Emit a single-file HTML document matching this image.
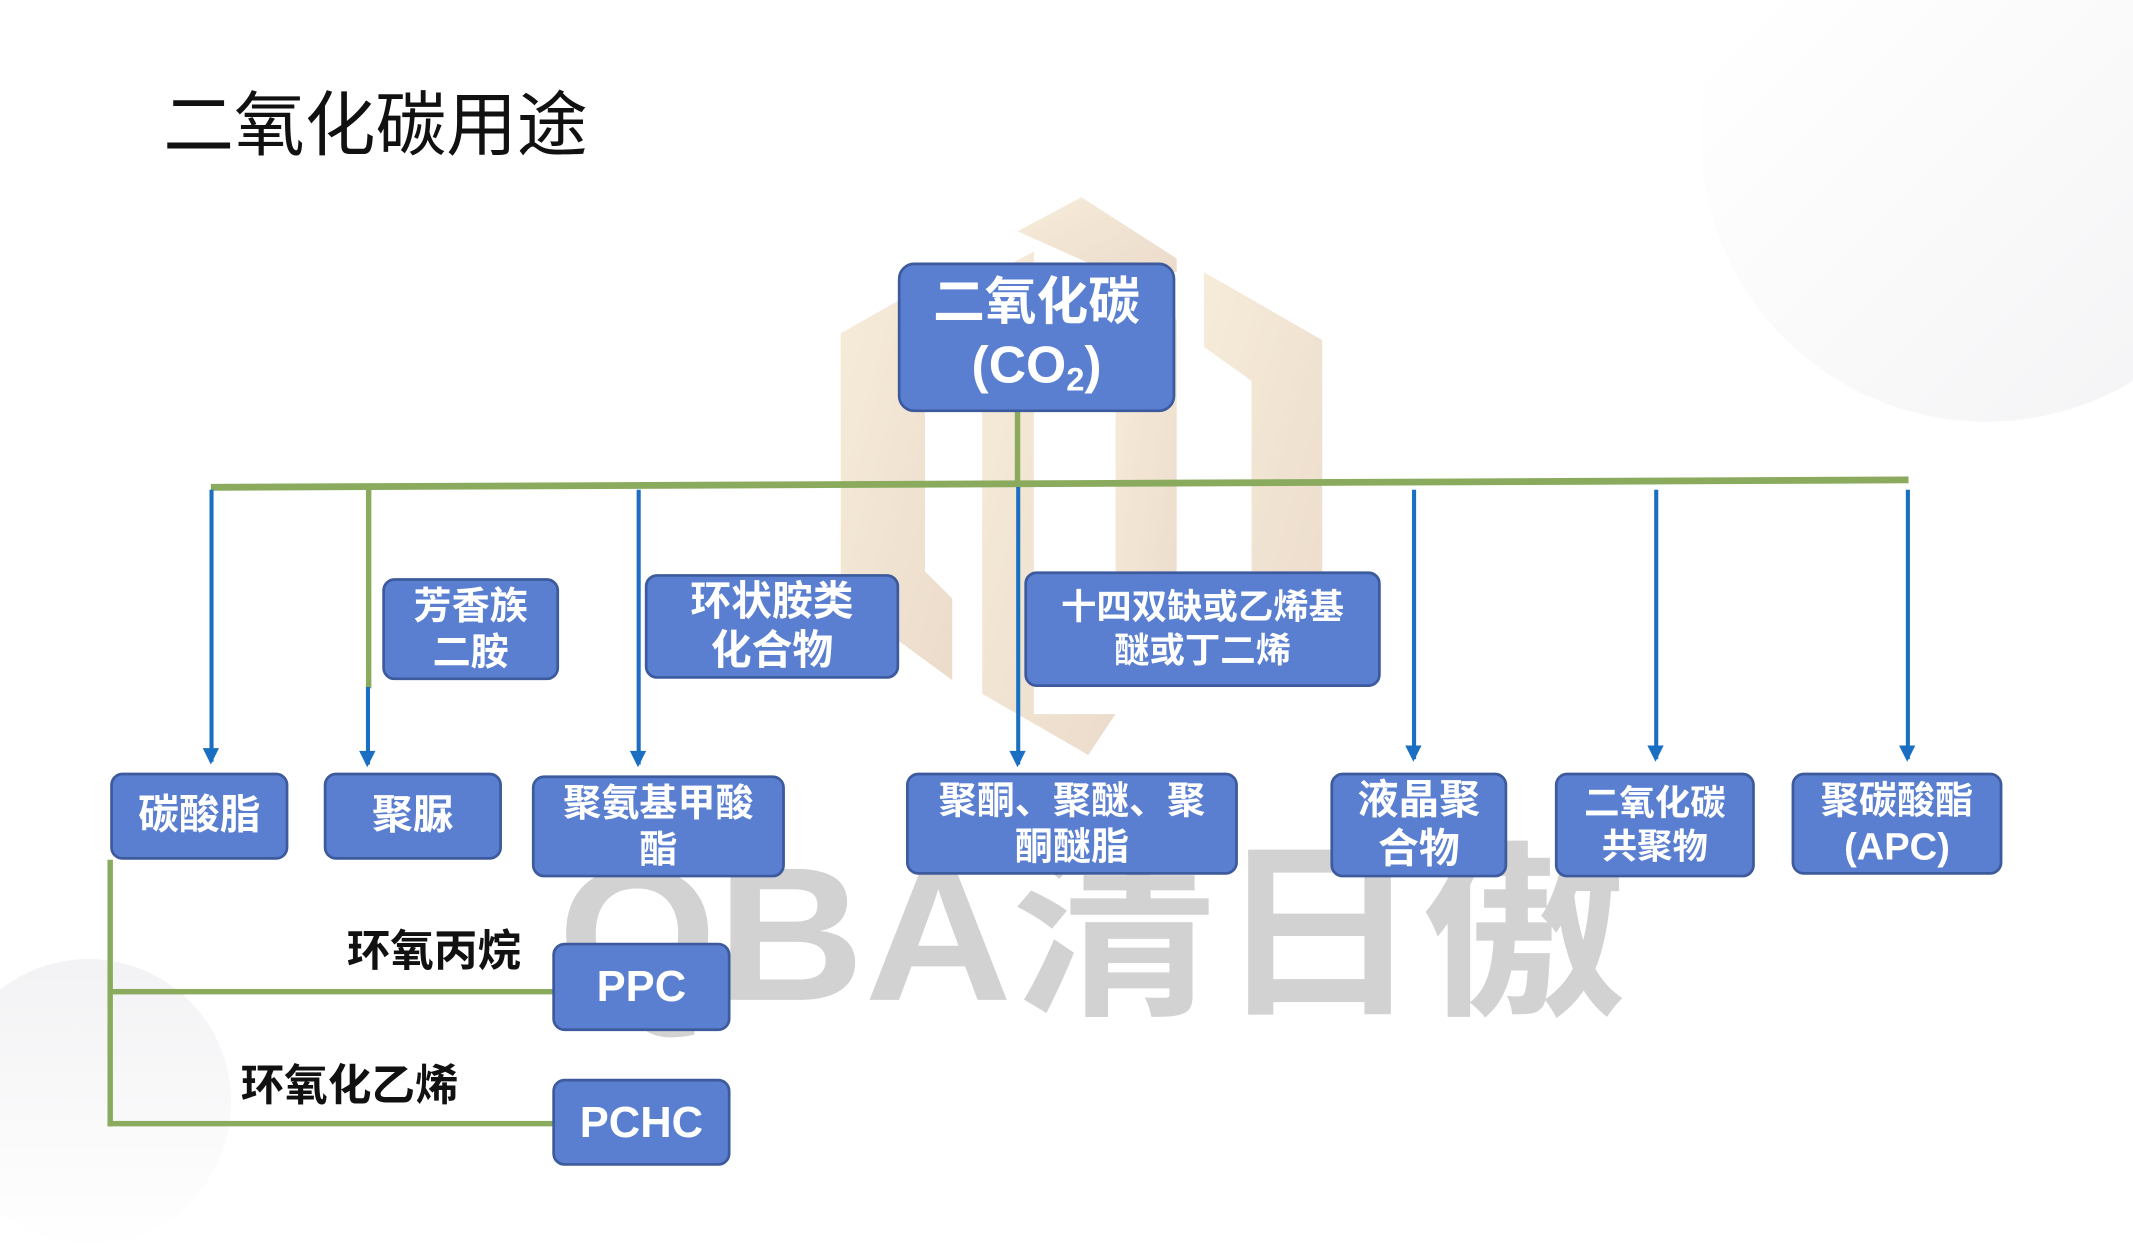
<!DOCTYPE html>
<html><head><meta charset="utf-8"><style>
html,body{margin:0;padding:0;}
body{width:2133px;height:1200px;overflow:hidden;background:#fff;position:relative;font-family:"Liberation Sans","Noto Sans CJK SC",sans-serif;}
#s{position:absolute;left:0;top:0;width:1568px;height:882px;transform:scale(1.36034);transform-origin:0 0;}
.b{position:absolute;background:#5a7fd1;border:2px solid #3c5a9c;border-radius:9px;color:#fff;font-weight:bold;display:flex;align-items:center;justify-content:center;text-align:center;box-sizing:border-box;line-height:1.2;}
.g{position:absolute;background:#8aab5e;}
.v{position:absolute;width:3px;background:#1a6fc2;}
.v:after{content:"";position:absolute;left:-5px;bottom:-2px;border-left:6.5px solid transparent;border-right:6.5px solid transparent;border-top:12px solid #1a6fc2;}
.lab{position:absolute;font-weight:bold;font-size:32px;color:#111;}
</style></head><body><div id="s">
<div style="position:absolute;left:1250px;top:-110px;width:420px;height:420px;border-radius:50%;background:linear-gradient(135deg,#ffffff 20%,#f3f3f5)"></div>
<div style="position:absolute;left:-40px;top:705px;width:210px;height:210px;border-radius:50%;background:linear-gradient(180deg,#f3f3f5,#ffffff)"></div>
<svg style="position:absolute;left:0;top:0" width="1568" height="882">
<defs><linearGradient id="w" x1="0" y1="0" x2="1" y2="1"><stop offset="0" stop-color="#f6ead6"/><stop offset="1" stop-color="#ead8c6"/></linearGradient></defs>
<g fill="url(#w)" opacity="0.9">
<polygon points="618,245 680,210 680,420 700,440 700,500 618,440"/>
<polygon points="722,205 760,185 760,525 820,525 800,555 722,510"/>
<polygon points="748,170 795,145 865,190 865,200 815,200"/>
<polygon points="820,210 865,235 865,500 820,500"/>
<polygon points="885,200 972,250 972,500 920,500 920,280 885,255"/>
</g>
<text x="410" y="735" font-family="Liberation Sans,Noto Sans CJK SC,sans-serif" font-weight="bold" font-size="140" fill="#d2d2d2" textLength="785" lengthAdjust="spacingAndGlyphs">QBA清日傲</text>
</svg>
<div style="position:absolute;left:120px;top:50px;font-size:52px;color:#111;">二氧化碳用途</div>
<div class="g" style="left:746px;top:302px;width:4px;height:56px"></div>
<div class="g" style="left:155px;top:353px;width:1248px;height:5px;transform:rotate(-0.25deg)"></div>
<div class="v" style="left:154px;top:360px;height:200px"></div>
<div class="g" style="left:269px;top:358px;width:4px;height:148px"></div>
<div class="v" style="left:269px;top:505px;height:57px"></div>
<div class="v" style="left:468px;top:360px;height:202px"></div>
<div class="v" style="left:747px;top:358px;height:204px"></div>
<div class="v" style="left:1038px;top:360px;height:198px"></div>
<div class="v" style="left:1216px;top:360px;height:198px"></div>
<div class="v" style="left:1401px;top:360px;height:198px"></div>
<div class="g" style="left:79px;top:632px;width:4px;height:196px"></div>
<div class="g" style="left:79px;top:727px;width:328px;height:4px"></div>
<div class="g" style="left:79px;top:824px;width:328px;height:4px"></div>
<div class="b" style="left:660px;top:193px;width:204px;height:110px;font-size:38px;border-radius:12px"><span>二氧化碳<br>(CO<sub style="font-size:24px;vertical-align:-6px">2</sub>)</span></div>
<div class="b" style="left:281px;top:425px;width:130px;height:75px;font-size:28px">芳香族<br>二胺</div>
<div class="b" style="left:474px;top:422px;width:187px;height:77px;font-size:30px">环状胺类<br>化合物</div>
<div class="b" style="left:753px;top:420px;width:262px;height:85px;font-size:26px">十四双缺或乙烯基<br>醚或丁二烯</div>
<div class="b" style="left:81px;top:568px;width:131px;height:64px;font-size:30px">碳酸脂</div>
<div class="b" style="left:238px;top:568px;width:131px;height:64px;font-size:30px">聚脲</div>
<div class="b" style="left:391px;top:570px;width:186px;height:75px;font-size:28px">聚氨基甲酸<br>酯</div>
<div class="b" style="left:666px;top:568px;width:244px;height:75px;font-size:28px">聚酮、聚醚、聚<br>酮醚脂</div>
<div class="b" style="left:978px;top:568px;width:130px;height:77px;font-size:30px">液晶聚<br>合物</div>
<div class="b" style="left:1143px;top:568px;width:147px;height:77px;font-size:26px">二氧化碳<br>共聚物</div>
<div class="b" style="left:1317px;top:568px;width:155px;height:75px;font-size:28px">聚碳酸酯<br>(APC)</div>
<div class="b" style="left:406px;top:693px;width:131px;height:65px;font-size:32px">PPC</div>
<div class="b" style="left:406px;top:793px;width:131px;height:64px;font-size:32px">PCHC</div>
<div class="lab" style="left:255px;top:674px">环氧丙烷</div>
<div class="lab" style="left:177px;top:773px">环氧化乙烯</div>
</div></body></html>
